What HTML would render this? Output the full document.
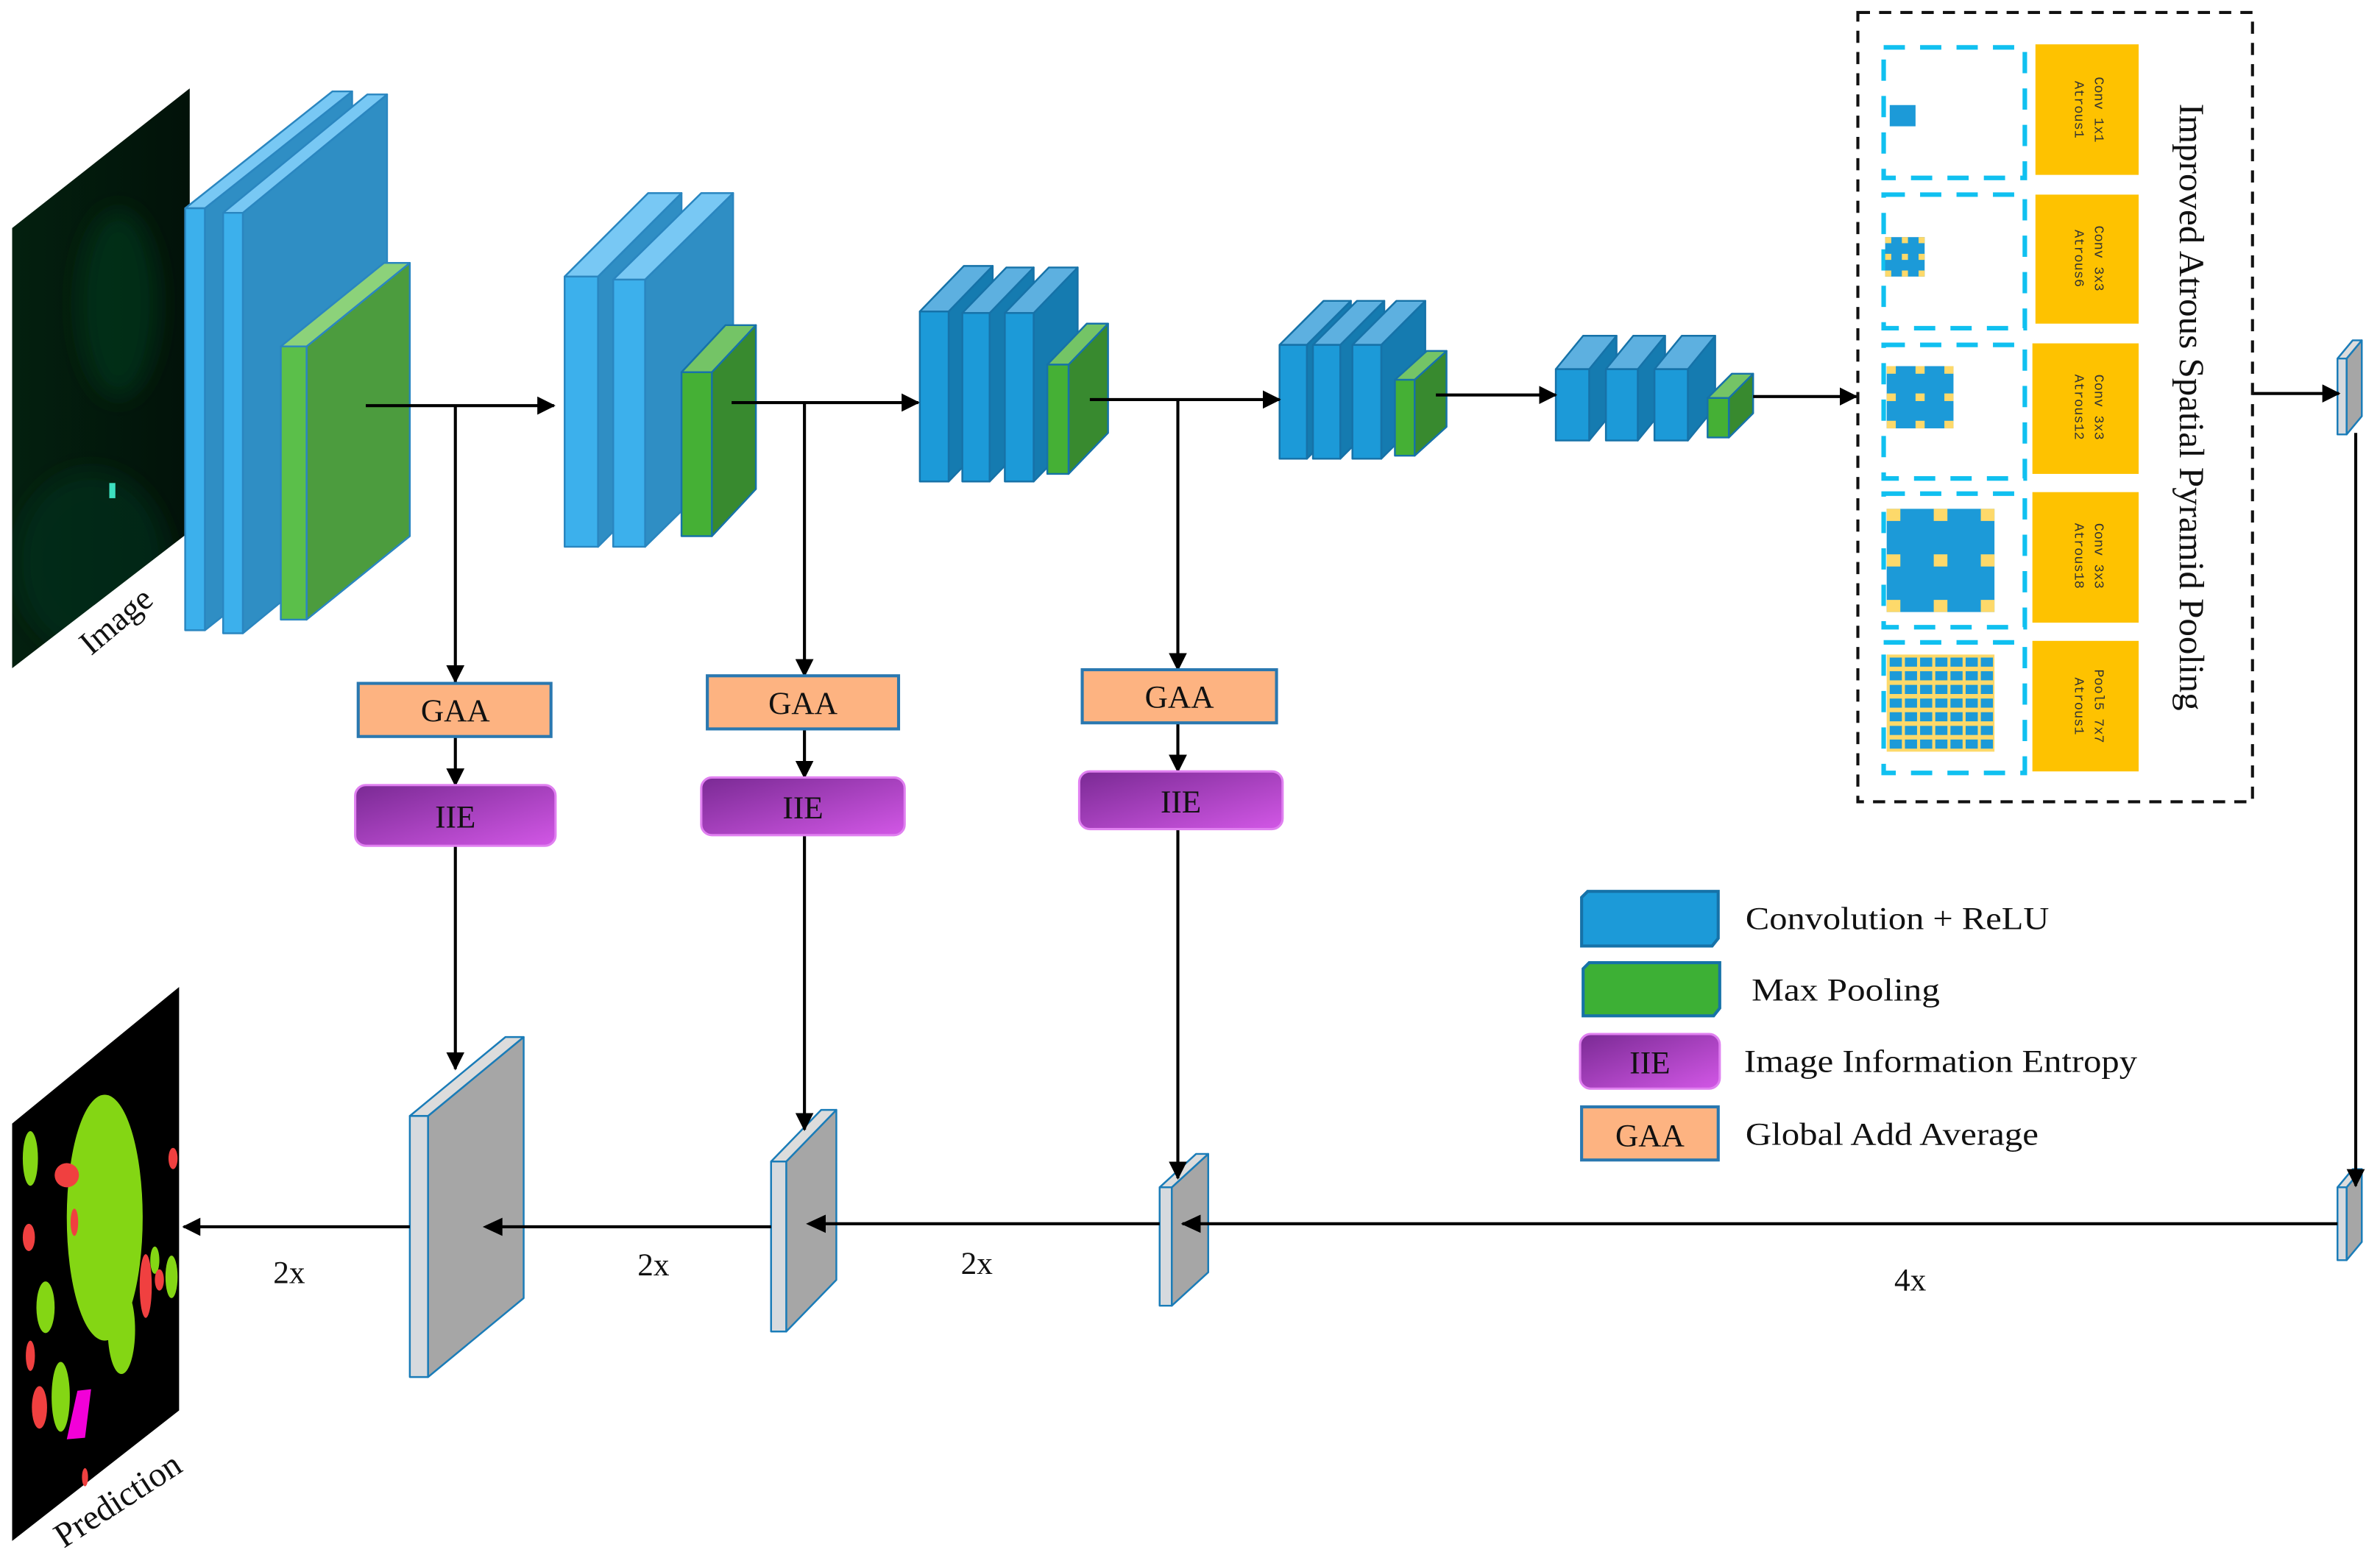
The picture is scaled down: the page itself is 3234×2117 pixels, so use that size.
<!DOCTYPE html>
<html><head><meta charset="utf-8">
<style>
html,body{margin:0;padding:0;background:#fff;}
svg{display:block;}
text{font-family:"Liberation Serif",serif;fill:#111;}
.mono text{font-family:"Liberation Mono",monospace;font-size:9px;fill:#333;}
</style></head>
<body>
<svg id="s" width="3234" height="2117" viewBox="0 0 1568 1026" xmlns="http://www.w3.org/2000/svg">
<defs>
<marker id="ah" markerWidth="12" markerHeight="12" refX="11" refY="6" orient="auto" markerUnits="userSpaceOnUse">
<path d="M0,0 L12,6 L0,12 z" fill="#000"/></marker>
<linearGradient id="pg" x1="0" y1="0" x2="1" y2="1">
<stop offset="0" stop-color="#7a2a94"/><stop offset="1" stop-color="#d257e6"/></linearGradient>
<linearGradient id="ig" x1="0" y1="0" x2="1" y2="0">
<stop offset="0" stop-color="#03200f"/><stop offset="1" stop-color="#021209"/></linearGradient>
<clipPath id="ic"><polygon points="8,150 125,58 125,350 8,440"/></clipPath>
<filter id="bl"><feGaussianBlur stdDeviation="8"/></filter>
</defs>
<g id="base">
<polygon points="8,150 125,58 125,350 8,440" fill="url(#ig)"/>
<g clip-path="url(#ic)" filter="url(#bl)">
<ellipse cx="78" cy="200" rx="26" ry="62" fill="#0a3a1e" opacity="0.6"/>
<ellipse cx="60" cy="370" rx="50" ry="60" fill="#0a3a1e" opacity="0.5"/>
</g>
<rect x="72" y="318" width="4" height="10" fill="#3de0c0"/>
<text font-size="22" transform="translate(60,432) rotate(-40)">Image</text>

<polygon points="8,740 118,650 118,929 8,1015" fill="#000"/>
<ellipse cx="69" cy="802" rx="25" ry="81" fill="#84d614"/>
<ellipse cx="80" cy="876" rx="9" ry="29" fill="#84d614"/>
<ellipse cx="40" cy="920" rx="6" ry="23" fill="#84d614"/>
<ellipse cx="20" cy="763" rx="5" ry="18" fill="#84d614"/>
<ellipse cx="30" cy="861" rx="6" ry="17" fill="#84d614"/>
<ellipse cx="113" cy="841" rx="4" ry="14" fill="#84d614"/>
<ellipse cx="102" cy="830" rx="3" ry="9" fill="#84d614"/>
<ellipse cx="44" cy="774" rx="8" ry="8" fill="#f04040"/>
<ellipse cx="49" cy="805" rx="2.5" ry="9" fill="#f04040"/>
<ellipse cx="19" cy="815" rx="4" ry="9" fill="#f04040"/>
<ellipse cx="96" cy="847" rx="4" ry="21" fill="#f04040"/>
<ellipse cx="105" cy="843" rx="3" ry="7" fill="#f04040"/>
<ellipse cx="114" cy="763" rx="3" ry="7" fill="#f04040"/>
<ellipse cx="20" cy="893" rx="3" ry="10" fill="#f04040"/>
<ellipse cx="26" cy="927" rx="5" ry="14" fill="#f04040"/>
<ellipse cx="56" cy="973" rx="2" ry="6" fill="#f04040"/>
<polygon points="51,916 60,915 56,947 44,948" fill="#f200d8"/>
<text font-size="23" transform="translate(42,1020) rotate(-33)">Prediction</text>

<g id="conn" stroke="#000" stroke-width="2" fill="none">
<line x1="241" y1="267" x2="365" y2="267" marker-end="url(#ah)"/>
<line x1="300" y1="267" x2="300" y2="449" marker-end="url(#ah)"/>
<line x1="300" y1="485" x2="300" y2="517" marker-end="url(#ah)"/>
<line x1="300" y1="557" x2="300" y2="704" marker-end="url(#ah)"/>
<line x1="482" y1="265" x2="605" y2="265" marker-end="url(#ah)"/>
<line x1="530" y1="265" x2="530" y2="445" marker-end="url(#ah)"/>
<line x1="530" y1="480" x2="530" y2="512" marker-end="url(#ah)"/>
<line x1="530" y1="550" x2="530" y2="744" marker-end="url(#ah)"/>
<line x1="718" y1="263" x2="843" y2="263" marker-end="url(#ah)"/>
<line x1="776" y1="263" x2="776" y2="441" marker-end="url(#ah)"/>
<line x1="776" y1="476" x2="776" y2="508" marker-end="url(#ah)"/>
<line x1="776" y1="546" x2="776" y2="776" marker-end="url(#ah)"/>
<line x1="946" y1="260" x2="1025" y2="260" marker-end="url(#ah)"/>
<line x1="1155" y1="261" x2="1223" y2="261" marker-end="url(#ah)"/>
<line x1="1484" y1="259" x2="1541" y2="259" marker-end="url(#ah)"/>
<line x1="1552" y1="285" x2="1552" y2="781" marker-end="url(#ah)"/>
<line x1="1540" y1="806" x2="779" y2="806"/>
<line x1="764" y1="806" x2="533" y2="806"/>
<line x1="508" y1="808" x2="320" y2="808"/>
<line x1="270" y1="808" x2="121" y2="808" marker-end="url(#ah)"/>
</g>
<g stroke="#2a78b0" stroke-width="2" fill="#fdb381">
<rect x="236" y="450" width="127" height="35"/>
<rect x="466" y="445" width="126" height="35"/>
<rect x="713" y="441" width="128" height="35"/>
<rect x="1042" y="729" width="90" height="35"/>
</g>
<g fill="url(#pg)" stroke="#e080f0" stroke-width="1.5">
<rect x="234" y="517" width="132" height="40" rx="7"/>
<rect x="462" y="512" width="134" height="38" rx="7"/>
<rect x="711" y="508" width="134" height="38" rx="7"/>
<rect x="1041" y="681" width="92" height="36" rx="7"/>
</g>
<g font-size="21" text-anchor="middle">
<text x="300" y="475">GAA</text><text x="529" y="470">GAA</text><text x="777" y="466">GAA</text>
<text x="300" y="545">IIE</text><text x="529" y="539">IIE</text><text x="778" y="535">IIE</text>
<text x="1087" y="755">GAA</text><text x="1087" y="707">IIE</text>
</g>
<polygon points="1042,591 1046,587 1132,587 1132,618 1128,623 1042,623" fill="#1c9ad8" stroke="#1672a8" stroke-width="2"/>
<polygon points="1043,638 1047,634 1133,634 1133,664 1129,669 1043,669" fill="#3db035" stroke="#1672a8" stroke-width="2"/>
<g font-size="21">
<text x="1150" y="612" textLength="200" lengthAdjust="spacingAndGlyphs">Convolution + ReLU</text>
<text x="1154" y="659" textLength="124" lengthAdjust="spacingAndGlyphs">Max Pooling</text>
<text x="1149" y="706" textLength="259" lengthAdjust="spacingAndGlyphs">Image  Information Entropy</text>
<text x="1150" y="754" textLength="193" lengthAdjust="spacingAndGlyphs">Global Add  Average</text>
<text x="180" y="845">2x</text><text x="420" y="840">2x</text><text x="633" y="839">2x</text><text x="1248" y="850">4x</text>
</g>
<rect x="1224" y="8" width="260" height="520" fill="none" stroke="#111" stroke-width="2" stroke-dasharray="8,6"/>
<g fill="none" stroke="#10c0f0" stroke-width="3" stroke-dasharray="14,10">
<rect x="1241" y="31" width="93" height="86"/>
<rect x="1241" y="128" width="93" height="88"/>
<rect x="1241" y="227" width="93" height="88"/>
<rect x="1241" y="325" width="93" height="88"/>
<rect x="1241" y="423" width="93" height="86"/>
</g>
<g fill="#fec200">
<rect x="1341" y="29" width="68" height="86"/>
<rect x="1341" y="128" width="68" height="85"/>
<rect x="1339" y="226" width="70" height="86"/>
<rect x="1339" y="324" width="70" height="86"/>
<rect x="1339" y="422" width="70" height="86"/>
</g>
<g class="mono" text-anchor="middle">
<text transform="translate(1376,72) rotate(90)"><tspan x="0" y="-4">Conv 1x1</tspan><tspan x="0" y="9">Atrous1</tspan></text>
<text transform="translate(1376,170) rotate(90)"><tspan x="0" y="-4">Conv 3x3</tspan><tspan x="0" y="9">Atrous6</tspan></text>
<text transform="translate(1376,268) rotate(90)"><tspan x="0" y="-4">Conv 3x3</tspan><tspan x="0" y="9">Atrous12</tspan></text>
<text transform="translate(1376,366) rotate(90)"><tspan x="0" y="-4">Conv 3x3</tspan><tspan x="0" y="9">Atrous18</tspan></text>
<text transform="translate(1376,465) rotate(90)"><tspan x="0" y="-4">Pool5 7x7</tspan><tspan x="0" y="9">Atrous1</tspan></text>
</g>
<text font-size="23" text-anchor="middle" textLength="400" lengthAdjust="spacingAndGlyphs" transform="translate(1436,268) rotate(90)">Improved Atrous Spatial Pyramid Pooling</text>
<rect x="1245" y="69" width="17" height="14" fill="#1c9ad8"/>
<g id="k"></g>
</g>
<g id="slabs"></g>
<g id="heads" fill="#000"></g>
</svg>
<script>
var NS="http://www.w3.org/2000/svg";
function P(g,pts,fill,stroke){var p=document.createElementNS(NS,"polygon");p.setAttribute("points",pts.map(function(a){return a.join(",")}).join(" "));p.setAttribute("fill",fill);if(stroke){p.setAttribute("stroke",stroke);p.setAttribute("stroke-width","1.2");p.setAttribute("stroke-linejoin","round");}g.appendChild(p);}
var S=document.getElementById("slabs");
var base=document.getElementById("base");
var conn=document.getElementById("conn");
base.insertBefore(S,conn);
function slab(x,y,w,h,dx,dy,c){
 P(S,[[x+w,y],[x+w+dx,y-dy],[x+w+dx,y+h-dy],[x+w,y+h]],c[1],c[3]);
 P(S,[[x,y],[x+dx,y-dy],[x+w+dx,y-dy],[x+w,y]],c[2],c[3]);
 P(S,[[x,y],[x+w,y],[x+w,y+h],[x,y+h]],c[0],c[3]);
}
var B1=["#3cb0ec","#2f8ec4","#78c8f4","#2a86c0"];
var B=["#1c9ad8","#157bb0","#5db0e0","#1672a8"];
var G1=["#5bbf4a","#4c9c3e","#8cd27a","#2a86c0"];
var G=["#45b035","#388a2f","#74c466","#1672a8"];
var GR=["#d6dade","#a6a6a6","#dcdcdc","#1a7cb8"];
var sl=slab;
sl(122,137,13,278,97,77,B1);sl(147,140,13,277,95,78,B1);sl(185,228,17,180,68,55,G1);
sl(372,182,22,178,55,55,B1);sl(404,184,21,176,58,57,B1);sl(449,245,20,108,29,31,G);
sl(606,205,19,112,29,30,B);sl(634,206,18,111,29,30,B);sl(662,206,19,111,29,30,B);sl(690,240,14,72,26,27,G);
sl(843,227,18,75,29,29,B);sl(865,227,18,75,29,29,B);sl(891,227,19,75,29,29,B);sl(919,250,13,50,21,19,G);
sl(1025,243,22,47,18,22,B);sl(1058,243,21,47,18,22,B);sl(1090,243,22,47,18,22,B);sl(1125,262,14,26,16,16,G);
sl(1540,236,6,50,10,12,GR);sl(1540,782,6,48,10,12,GR);
sl(764,782,8,78,24,22,GR);sl(508,765,10,112,33,34,GR);sl(270,735,12,172,63,52,GR);
var H=document.getElementById("heads");
function hl(x,y){P(H,[[x,y],[x+13,y-6],[x+13,y+6]],"#000");}
hl(778,806);hl(531,806);hl(318,808);
var K=document.getElementById("k");
function R(x,y,w,h,f){var r=document.createElementNS(NS,"rect");r.setAttribute("x",x);r.setAttribute("y",y);r.setAttribute("width",w);r.setAttribute("height",h);r.setAttribute("fill",f);K.appendChild(r);}
function grid(x,y,n,cw,ch,bw){
 var W=n*cw+(n-1)*bw,Hh=n*ch+(n-1)*bw;R(x,y,W,Hh,"#1c9ad8");
 for(var i=0;i<n;i++)for(var j=0;j<n;j++)R(x+i*(cw+bw),y+j*(ch+bw),cw,ch,"#fdd96a");
}
grid(1242,156,3,4,4,7);
grid(1243,241,3,6,5,13);
grid(1243,335,3,9,8,22);
R(1243,431,71,64,"#fdd96a");
for(var i=0;i<7;i++)for(var j=0;j<7;j++)R(1245+i*10,433+j*9,8,6,"#1c9ad8");
</script>
</body></html>
